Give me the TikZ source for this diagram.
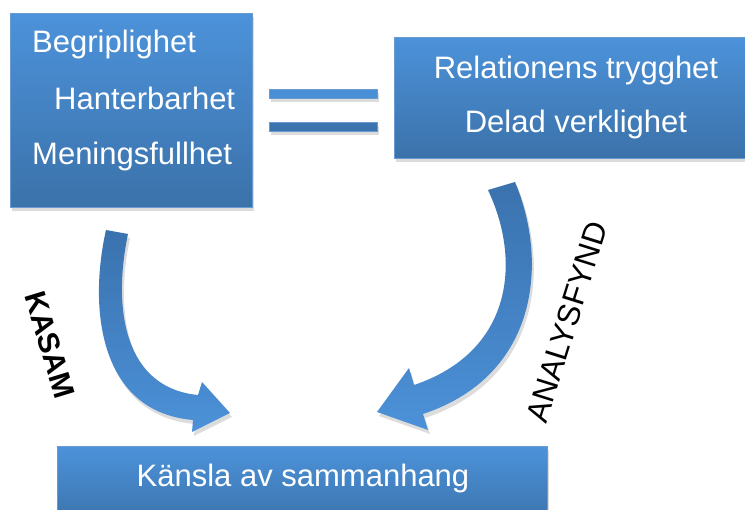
\documentclass[tikz,border=0pt]{standalone}
\usepackage{fontspec}
\setmainfont{Liberation Sans}
\usetikzlibrary{shadows}
\definecolor{boxtop}{RGB}{76,146,218}
\definecolor{boxbot}{RGB}{59,114,170}
\definecolor{boxedge}{RGB}{105,155,210}
\definecolor{arrtop}{RGB}{58,114,174}
\definecolor{arrbot}{RGB}{76,145,216}
\definecolor{bartop}{RGB}{74,143,214}
\definecolor{barbot}{RGB}{59,115,174}
\begin{document}
\begin{tikzpicture}[x=1pt,y=-1pt,
  shad/.style={drop shadow={opacity=0.28, shadow xshift=2pt, shadow yshift=-4pt}},
  box/.style={rectangle, inner sep=0pt, top color=boxtop, bottom color=boxbot,
    draw=boxedge, line width=0.6pt, shad},
  lbl/.style={text=white, font=\fontsize{31}{31}\selectfont, inner sep=0pt, anchor=base west},
  bigarrow/.style={top color=arrtop, bottom color=arrbot, shad},
  side/.style={inner sep=0pt, text=black}]
\useasboundingbox (0,0) rectangle (745,510);

% boxes
\node[box, minimum width=242pt, minimum height=194pt, anchor=north west] (kasam) at (10,13) {};
\node[box, minimum width=370pt, minimum height=121pt, anchor=north west] (rel) at (394,37) {};
\node[box, minimum width=490pt, minimum height=80pt, anchor=north west] (kansla) at (57,446) {};

% texts
\node[lbl] (t1) at (32,53) {Begriplighet};
\node[lbl] (t2) at (54,110) {Hanterbarhet};
\node[lbl] (t3) at (32,165) {Meningsfullhet};
\node[lbl, anchor=base] (t4) at (576,79) {Relationens trygghet};
\node[lbl, anchor=base] (t5) at (576,133) {Delad verklighet};
\node[lbl, anchor=base] (t6) at (303,487) {Känsla av sammanhang};

% equals sign
\fill[fill=bartop, draw=boxedge, line width=0.5pt, shad] (269,89) rectangle (377,98);
\fill[fill=barbot, draw=boxedge, line width=0.5pt, shad] (269,122) rectangle (377,131);

% left curved arrow
\shade[bigarrow] (106,230) .. controls (88,310) and (100,412) .. (193,420)
  -- (192,432) -- (230,413) -- (202,382) -- (198,395)
  .. controls (125,388) and (112,310) .. (128,234) -- cycle;

% right curved arrow
\shade[bigarrow] (515,182) .. controls (548,260) and (540,375) .. (423,414)
  -- (428,430) -- (377,412) -- (409,368) -- (414,385)
  .. controls (512,352) and (522,262) .. (488,190) -- cycle;

% side labels
\node[side, font=\bfseries\fontsize{30}{30}\selectfont, rotate=-73] (kasamlbl) at (50,345) {KASAM};
\node[side, font=\fontsize{31.5}{31.5}\selectfont, rotate=72.6] (analyslbl) at (567,322) {ANALYSFYND};
\end{tikzpicture}
\end{document}
